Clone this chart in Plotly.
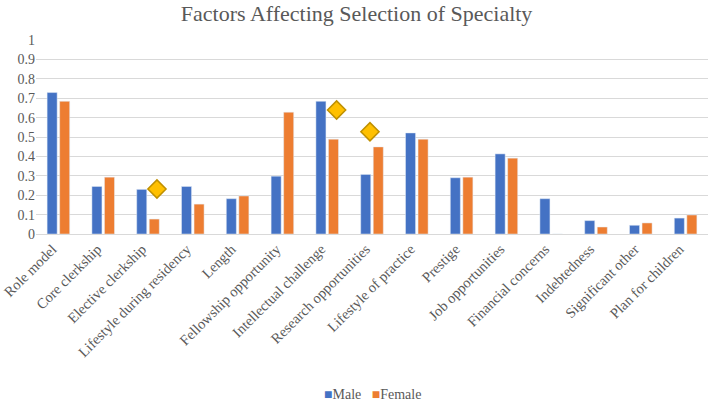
import plotly.graph_objects as go

categories = ["Role model", "Core clerkship", "Elective clerkship", "Lifestyle during residency",
              "Length", "Fellowship opportunity", "Intellectual challenge", "Research opportunities",
              "Lifestyle of practice", "Prestige", "Job opportunities", "Financial concerns",
              "Indebtedness", "Significant other", "Plan for children"]
male = [0.729, 0.245, 0.230, 0.245, 0.182, 0.298, 0.684, 0.307, 0.521, 0.290, 0.413, 0.182, 0.069, 0.045, 0.082]
female = [0.684, 0.293, 0.077, 0.154, 0.196, 0.628, 0.489, 0.449, 0.489, 0.293, 0.391, 0.0, 0.036, 0.057, 0.098]
diamond_x = [2.2, 6.21, 6.955]
diamond_y = [0.232, 0.639, 0.527]
yticks = [0, 0.1, 0.2, 0.3, 0.4, 0.5, 0.6, 0.7, 0.8, 0.9, 1]
ytick_labels = ["0", "0.1", "0.2", "0.3", "0.4", "0.5", "0.6", "0.7", "0.8", "0.9", "1"]
series_names = ["Male", "Female"]
series_colors = ["#4472C4", "#ED7D31"]

FONT = "Liberation Serif"
TXT = "#595959"

fig = go.Figure()
fig.add_trace(go.Bar(x=categories, y=male, name=series_names[0], marker_color=series_colors[0]))
fig.add_trace(go.Bar(x=categories, y=female, name=series_names[1], marker_color=series_colors[1]))
fig.add_trace(go.Scatter(x=diamond_x, y=diamond_y, mode="markers", xaxis="x2", showlegend=False,
                         marker=dict(symbol="diamond", size=14, color="#FFC000",
                                     line=dict(color="#BF9000", width=1.5))))

legend_text = "&nbsp;&nbsp;&nbsp;".join(
    f"<span style='color:{c}'>■</span>{n}" for n, c in zip(series_names, series_colors))

fig.update_layout(
    width=709, height=401,
    margin=dict(l=36, r=1, t=40, b=167, autoexpand=False),
    paper_bgcolor="white", plot_bgcolor="white",
    font=dict(family=FONT, color=TXT, size=13),
    title=dict(text="Factors Affecting Selection of Specialty", x=0.503, xanchor="center",
               y=0.967, yanchor="middle", font=dict(family=FONT, size=22, color=TXT)),
    barmode="group", bargap=0.44, bargroupgap=0.2,
    showlegend=False,
    annotations=[dict(text=legend_text, xref="paper", yref="paper", x=0.5, y=-0.825,
                      xanchor="center", yanchor="middle", showarrow=False,
                      font=dict(family=FONT, size=14, color=TXT))],
    xaxis=dict(type="category", tickangle=-45, showgrid=False, showline=True, automargin=False,
               linecolor="#d9d9d9", linewidth=1, ticks="", ticklabelshift=-6,
               tickfont=dict(family=FONT, size=14.5, color=TXT),
               range=[-0.5, 14.5]),
    xaxis2=dict(overlaying="x", range=[-0.5, 14.5], visible=False, showgrid=False),
    yaxis=dict(range=[0, 1], tickvals=yticks, ticktext=ytick_labels, showgrid=True, automargin=False,
               gridcolor="#d9d9d9", gridwidth=1, zeroline=False, showline=False, ticks="",
               tickfont=dict(family=FONT, size=14, color=TXT)),
)

fig.write_html("out.html", config={"displayModeBar": False},
               post_script="document.body.style.margin='0';")
